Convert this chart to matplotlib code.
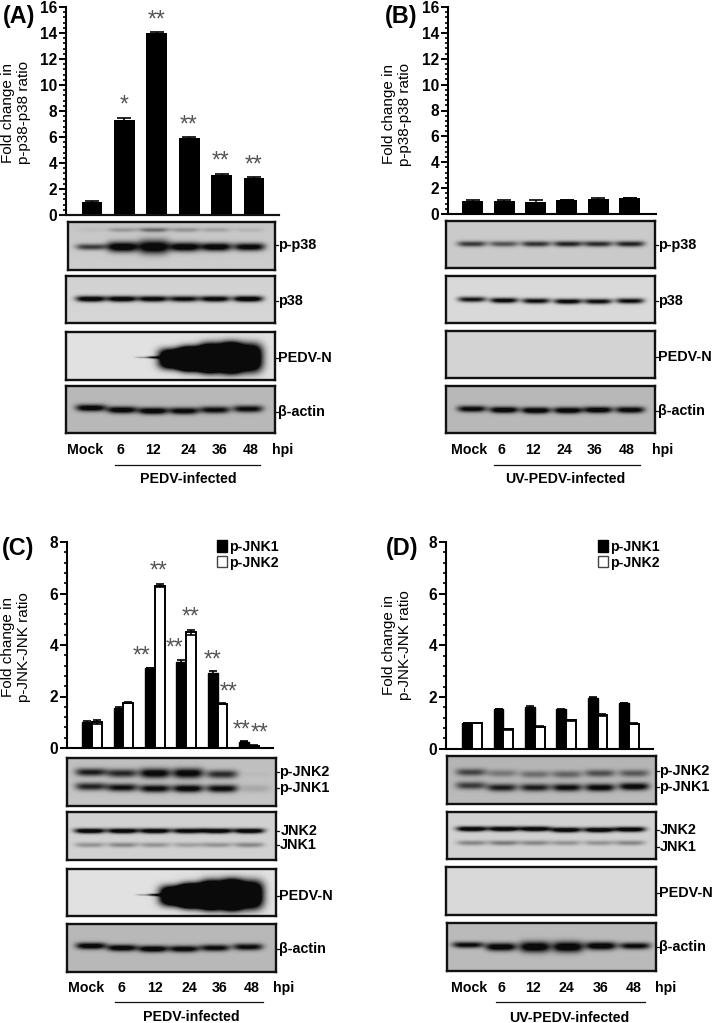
import numpy as np
import matplotlib
matplotlib.use("Agg")
import matplotlib.pyplot as plt
from matplotlib.patches import Patch
from matplotlib.ticker import MultipleLocator

plt.rcParams['font.family'] = ['Liberation Sans', 'DejaVu Sans']
W, H = 714, 1023
fig = plt.figure(figsize=(W / 100, H / 100), dpi=100)

# ---------- chart data ----------
a_values = [1.0, 7.3, 14.0, 5.95, 3.05, 2.85]
a_errors = [0.08, 0.15, 0.08, 0.08, 0.08, 0.08]
b_values = [1.0, 1.0, 0.9, 1.05, 1.15, 1.25]
b_errors = [0.05, 0.1, 0.15, 0.0, 0.08, 0.0]
c_jnk1 = [1.0, 1.55, 3.1, 3.35, 2.9, 0.25]
c_jnk2 = [1.0, 1.75, 6.3, 4.5, 1.72, 0.08]
c_err1 = [0.05, 0.04, 0.0, 0.05, 0.08, 0.03]
c_err2 = [0.08, 0.02, 0.05, 0.1, 0.02, 0.02]
d_jnk1 = [1.0, 1.55, 1.6, 1.52, 1.98, 1.78]
d_jnk2 = [1.0, 0.75, 0.85, 1.1, 1.3, 0.97]
d_err1 = [0.0, 0.0, 0.04, 0.03, 0.03, 0.0]
d_err2 = [0.0, 0.02, 0.02, 0.03, 0.03, 0.02]
lane_labels = ['Mock', '6', '12', '24', '36', '48']

# ---------- blot band intensities (one value per lane) ----------
ap_main = [0.6, 1, 1, 0.97, 0.95, 0.9]
ap_main_t = [2.3, 3.8, 5, 3.4, 3.1, 2.9]
ap_upper = [0.04, 0.2, 0.4, 0.22, 0.15, 0.08]
a_p38 = [0.97, 0.97, 0.92, 0.85, 0.92, 1]
a_actin = [0.95, 0.95, 0.97, 0.9, 0.85, 0.85]
bp_main = [0.62, 0.5, 0.65, 0.72, 0.68, 0.72]
b_p38 = [0.78, 0.88, 0.82, 0.88, 0.82, 0.82]
b_actin = [0.88, 0.97, 1, 0.97, 0.97, 0.92]
cp_jnk2 = [0.75, 0.7, 0.92, 0.92, 0.68, 0.03]
cp_jnk1 = [0.72, 0.82, 0.87, 0.92, 0.87, 0.12]
c_tot2 = [1, 1, 1, 0.95, 1, 1]
c_tot1 = [0.25, 0.3, 0.25, 0.2, 0.25, 0.3]
dp_jnk2 = [0.55, 0.3, 0.35, 0.4, 0.5, 0.45]
dp_jnk1 = [0.6, 0.75, 0.75, 0.85, 0.9, 0.92]
d_tot2 = [1, 1, 1, 1, 1, 1]
d_tot1 = [0.3, 0.35, 0.3, 0.25, 0.25, 0.3]
d_actin = [0.85, 0.97, 1, 1, 0.97, 0.85]
d_actin_t = [2.3, 3, 4, 4, 3, 2.5]


def px_rect(x0, y0, x1, y1):
    return [x0 / W, 1 - y1 / H, (x1 - x0) / W, (y1 - y0) / H]


def T(x, y, s, size=10.2, ha='center', va='center', **kw):
    kw.setdefault('fontweight', 'bold')
    fig.text(x / W, 1 - y / H, s, fontsize=size, ha=ha, va=va, **kw)


def line(x0, y0, x1, y1, lw=1.0, color='#111111'):
    fig.add_artist(plt.Line2D([x0 / W, x1 / W], [1 - y0 / H, 1 - y1 / H],
                              lw=lw, color=color))


def bar_axes(x0, x1, y_top, y_bot, first, step, ymax):
    ax = fig.add_axes(px_rect(x0, y_top, x1, y_bot))
    ax.set_xlim((x0 - first) / step, (x1 - first) / step)
    ax.set_ylim(0, ymax)
    ax.patch.set_alpha(0)
    for s in ('top', 'right'):
        ax.spines[s].set_visible(False)
    ax.spines['left'].set_linewidth(1.5)
    ax.spines['bottom'].set_linewidth(1.5)
    ax.set_xticks([])
    ax.yaxis.set_major_locator(MultipleLocator(2))
    ax.yaxis.set_minor_locator(MultipleLocator(0.4))
    ax.tick_params(axis='y', which='major', length=5, width=1.4, labelsize=11.2,
                   pad=1.5)
    ax.tick_params(axis='y', which='minor', length=2.5, width=1.2)
    for t in ax.get_yticklabels():
        t.set_fontweight('bold')
    return ax


def blot(x0, y0, x1, y1, bg, bands, tilt=0.0):
    """bands: list of (lane centres, half width, y px, intensities, thickness, power)."""
    w, h = int(x1 - x0), int(y1 - y0)
    X, Y = np.meshgrid(np.arange(w) + x0 + 0.5, np.arange(h) + y0 + 0.5)
    dark = np.zeros_like(X)
    for lanes, hw, yc, vals, thick, power in bands:
        thick = np.broadcast_to(thick, (len(lanes),))
        hw_arr = np.broadcast_to(hw, (len(lanes),))
        yc_arr = np.broadcast_to(yc, (len(lanes),))
        scale = 1.35 if power == 2 else 1.0
        widen = 1.5 if power == 2 else 0.0
        for c, v, t, hh, yy in zip(lanes, vals, thick, hw_arr, yc_arr):
            bow = 0.25 * ((X - c) / hh) ** 2
            dark += v * np.exp(-np.abs((X - c) / (hh + widen)) ** 4) * \
                np.exp(-np.abs((Y - yy + bow) / (t * scale)) ** power)
    dark = np.clip(dark * 1.25, 0, 1)
    base = bg + tilt * (Y - Y.mean()) / h
    img = base * (1 - dark) + 0.04 * dark
    ax = fig.add_axes(px_rect(x0, y0, x1, y1))
    ax.imshow(img, cmap='gray', vmin=0, vmax=1, aspect='auto',
              interpolation='bilinear')
    ax.set_xticks([])
    ax.set_yticks([])
    for s in ax.spines.values():
        s.set_linewidth(1.7)
        s.set_color('#111111')
    return ax


def side_label(x_edge, y, s, xt=None):
    line(x_edge, y, x_edge + 3, y, lw=0.9)
    T(x_edge + 3 if xt is None else xt, y, s, size=10.4, ha='left')


# ---------- Panel A ----------
pos = np.arange(6)
ax = bar_axes(66, 279, 7, 215, 92, 32.4, 16)
ax.bar(pos, a_values, width=0.64, color='black', yerr=a_errors,
       error_kw=dict(ecolor='black', capsize=5, capthick=1.2, elinewidth=1.2))
line(61, 215, 279, 215, lw=1.5)

# ---------- Panel B ----------
ax = bar_axes(448, 656, 7, 214, 472.7, 31.4, 16)
ax.bar(pos, b_values, width=0.67, color='black', yerr=b_errors,
       error_kw=dict(ecolor='black', capsize=5, capthick=1.2, elinewidth=1.2))

# ---------- Panel C and D ----------
err_style = dict(ecolor='black', capsize=3, capthick=1.2, elinewidth=1.2)
bw = 0.31
ax = bar_axes(67, 273, 542, 748, 92, 31.4, 8)
ax.bar(pos - bw / 2, c_jnk1, bw, color='black', edgecolor='black', yerr=c_err1,
       error_kw=err_style)
ax.bar(pos + bw / 2, c_jnk2, bw, color='white', edgecolor='black', linewidth=1.4,
       yerr=c_err2, error_kw=err_style)
handles = [Patch(facecolor='black', edgecolor='black'),
           Patch(facecolor='white', edgecolor='#444444')]
leg_kw = dict(frameon=False, loc='upper left', handlelength=0.72, handleheight=0.85,
              handletextpad=0.15, labelspacing=0.12, borderpad=0, borderaxespad=0,
              prop=dict(size=10.2, weight='bold'))
ax.legend(handles, ['p-JNK1', 'p-JNK2'], bbox_to_anchor=(217 / W, 1 - 540 / H),
          bbox_transform=fig.transFigure, **leg_kw)

ax = bar_axes(446, 653, 542, 748.7, 472, 31.4, 8)
ax.bar(pos - bw / 2, d_jnk1, bw, color='black', edgecolor='black', yerr=d_err1,
       error_kw=err_style)
ax.bar(pos + bw / 2, d_jnk2, bw, color='white', edgecolor='black', linewidth=1.4,
       yerr=d_err2, error_kw=err_style)
ax.legend(handles, ['p-JNK1', 'p-JNK2'], bbox_to_anchor=(598 / W, 1 - 540 / H),
          bbox_transform=fig.transFigure, **leg_kw)

# ---------- blots ----------
la = [91, 122, 153, 184, 215, 248]
blob_x = [179, 199, 220, 242]
blob_t = [10, 12, 14, 14]
blob_i = [1.6, 1.6, 1.6, 1.6]
tail_x = [146, 158]
tail_i = [0.25, 0.55]

blot(67.5, 222, 275, 270, 0.79,
     [(la, 14, 247, ap_main, ap_main_t, 2), (la, 13, 230, ap_upper, 1.7, 2)], 0.03)
blot(66, 276, 275, 323, 0.83, [(la, 13.5, 299, a_p38, 2.2, 2)], 0.02)
blot(66, 332, 275, 380, 0.88,
     [(blob_x, 20, [359, 359, 358, 358], blob_i, blob_t, 3),
      (tail_x, 9, 357.5, tail_i, [0.7, 1.0], 2)], 0.0)
blot(66, 386, 275, 433, 0.72,
     [(la, 13.5, [408, 410, 411, 411, 410, 409], a_actin, 2.6, 2)], 0.0)

lb = [472, 504, 536, 568, 598, 630]
blot(446, 221, 655, 268, 0.79, [(lb, 13, 244, bp_main, 2.1, 2)], 0.0)
blot(446, 276, 655, 323, 0.85,
     [(lb, 12.5, [299.5, 300.5, 301, 301.5, 301.5, 301], b_p38, 2, 2)], 0.0)
blot(446, 331, 655, 378, 0.83, [], 0.0)
blot(446, 386, 655, 433, 0.72,
     [(lb, 13, [409, 410, 410.5, 410.5, 410, 410], b_actin, 2.4, 2)], 0.0)

lc = [91, 122, 155, 188, 222, 255]
lc2 = [90, 123, 155, 188, 217, 249]
blot(67, 758, 276, 806, 0.76,
     [(lc, 14, [773, 774, 774, 774, 775, 775], cp_jnk2, [2.8, 3, 3.5, 3.6, 3, 2], 2),
      (lc, 14, [787, 788, 789, 789, 789, 789], cp_jnk1, 2.8, 2)], 0.03)
blot(67, 812, 276, 860, 0.82,
     [(lc2, 14, 831, c_tot2, 1.9, 2), (lc2, 13.5, 845, c_tot1, 1.9, 2)], 0.0)
blot(67, 869, 276, 916, 0.88,
     [([x + 1 for x in blob_x], 20, [896, 896, 895, 895], blob_i, blob_t, 3),
      ([x + 1 for x in tail_x], 9, 895, tail_i, [0.7, 1.0], 2)], 0.0)
blot(67, 924, 276, 972, 0.72,
     [(la, 13.5, [946, 948, 949, 949, 948, 947], a_actin, 2.5, 2)], 0.0)

ld = [471, 502, 535, 567, 600, 634]
ld2 = [472, 504, 535, 566, 599, 630]
ld3 = [468, 501, 535, 568, 601, 635]
blot(447, 756, 656, 804, 0.72,
     [(ld, 13.5, [773, 774, 775, 775, 774, 774], dp_jnk2, 2.6, 2),
      (ld, 13.5, [786, 788, 788, 788, 788, 787], dp_jnk1, 2.7, 2)], 0.03)
blot(447, 812, 656, 859, 0.82,
     [(ld2, 14, [829, 829, 829, 830, 830, 829.5], d_tot2, 1.9, 2),
      (ld2, 13.5, 843, d_tot1, 1.9, 2)], 0.0)
blot(446, 867, 656, 915, 0.85, [], 0.0)
blot(447, 923, 656, 971, 0.73,
     [(ld3, 14, [945, 947, 947, 947, 946, 946], d_actin, d_actin_t, 2)], 0.0)

# ---------- text ----------
T(19, 17, '(A)', size=16.8)
T(401, 16, '(B)', size=16.8)
T(18, 548, '(C)', size=16.8)
T(402, 548, '(D)', size=16.8)

ylab = dict(size=11.0, rotation=90, linespacing=1.12, fontweight='normal')
T(16, 113, 'Fold change in\np-p38-p38 ratio', **ylab)
T(397, 114, 'Fold change in\np-p38-p38 ratio', **ylab)
T(16, 647, 'Fold change in\np-JNK-JNK ratio', **ylab)
T(397, 645, 'Fold change in\np-JNK-JNK ratio', **ylab)

side_label(275, 245, 'p-p38')
side_label(275, 301, 'p38')
side_label(275, 358, 'PEDV-N')
side_label(275, 412, 'β-actin')
side_label(655, 245, 'p-p38')
side_label(655, 301, 'p38')
side_label(655, 357, 'PEDV-N')
side_label(655, 411, 'β-actin')
side_label(276, 772, 'p-JNK2')
side_label(276, 788, 'p-JNK1')
side_label(276, 831, 'JNK2', xt=281)
side_label(276, 845, 'JNK1', xt=280)
side_label(276, 896, 'PEDV-N')
side_label(276, 949, 'β-actin')
side_label(656, 771, 'p-JNK2')
side_label(656, 787, 'p-JNK1')
side_label(656, 830, 'JNK2', xt=660)
side_label(656, 847, 'JNK1', xt=660)
side_label(656, 893, 'PEDV-N')
side_label(656, 947, 'β-actin')

x_a = [85, 120, 153, 188, 220, 251]
x_b = [469, 501, 533, 564, 595, 627]
x_c = [86, 121, 155, 189, 220, 252]
x_d = [469, 501, 533, 566, 601, 634]
for xs, hx, yr, lx0, lx1, ly, name, nx, ny in [
        (x_a, 283, 450, 115, 260, 465, 'PEDV-infected', 188, 479),
        (x_b, 663, 450, 494, 640, 465, 'UV-PEDV-infected', 565, 479),
        (x_c, 284, 988, 115, 263, 1002, 'PEDV-infected', 191, 1017),
        (x_d, 666, 988, 496, 645, 1002, 'UV-PEDV-infected', 569, 1018)]:
    for x, s in zip(xs, lane_labels):
        T(x, yr, s, size=10.2)
    T(hx, yr, 'hpi', size=10.2)
    line(lx0, ly, lx1, ly, lw=0.9)
    T(nx, ny, name, size=10.2)

stars = [(124, 102, '*'), (157, 17, '**'), (189, 122, '**'), (221, 158, '**'),
         (254, 162, '**'), (142, 653, '**'), (159, 568, '**'), (175, 645, '**'),
         (191, 614, '**'), (213, 657, '**'), (229, 689, '**'), (242, 727, '**'),
         (260, 730, '**')]
for x, y, s in stars:
    # the asterisk glyph sits above the middle of its line box
    T(x, y + 3, s, size=16.5, color='#555555', fontweight='normal')

fig.savefig('out.png', dpi=100)
